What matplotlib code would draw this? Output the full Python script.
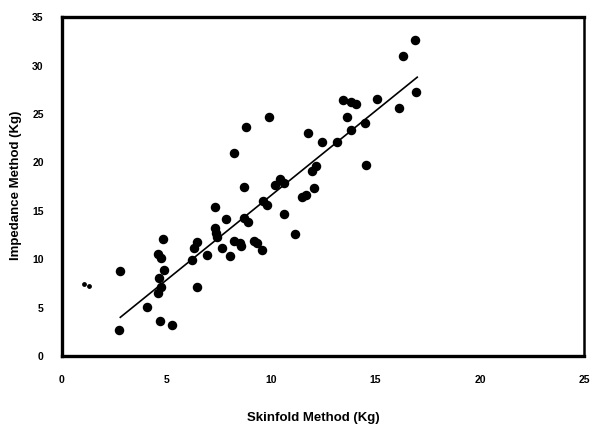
import numpy as np
import matplotlib
matplotlib.use("Agg")
import matplotlib.pyplot as plt

# data
skinfold = [2.77, 2.72, 4.08, 4.69, 5.26, 4.84, 4.60, 4.74, 4.88, 4.65,
            4.74, 4.60, 6.24, 6.34, 6.48, 6.48, 6.95, 7.32, 7.32, 7.37,
            7.42, 7.65, 7.84, 8.03, 8.26, 8.50, 8.59, 8.73, 8.92, 9.20,
            9.34, 9.58, 9.62, 9.81, 8.73, 10.19, 10.42, 10.61, 10.61, 11.17,
            11.50, 11.69, 12.07, 11.97, 12.16, 11.78, 12.44, 13.15, 13.43, 13.85,
            14.08, 15.07, 13.66, 14.51, 13.85, 14.55, 16.15, 16.34, 16.90, 16.95,
            9.91, 8.83, 8.26]
impedance = [8.76, 2.68, 5.05, 3.61, 3.20, 12.06, 10.52, 10.10, 8.87, 8.04,
             7.11, 6.49, 9.90, 11.13, 11.75, 7.11, 10.41, 15.36, 13.20, 12.68,
             12.27, 11.13, 14.12, 10.31, 11.86, 11.65, 11.34, 14.23, 13.81, 11.86,
             11.65, 10.93, 15.98, 15.57, 17.42, 17.63, 18.25, 17.84, 14.64, 12.58,
             16.39, 16.60, 17.32, 19.07, 19.59, 22.99, 22.16, 22.06, 26.49, 26.29,
             26.08, 26.60, 24.74, 24.02, 23.40, 19.69, 25.57, 31.03, 32.68, 27.32,
             24.74, 23.71, 20.93]

# small smudge near the left edge
smudge_x = [1.08, 1.31]
smudge_y = [7.45, 7.25]

# regression line end points
fit_x = [2.8, 17.0]
fit_y = [4.0, 28.8]

xticks = [0, 5, 10, 15, 20, 25]
yticks = [0, 5, 10, 15, 20, 25, 30, 35]

plt.rcParams['font.family'] = ['Liberation Sans', 'DejaVu Sans']

fig = plt.figure(figsize=(5.94, 4.30), dpi=100)
ax = fig.add_axes([0.104, 0.172, 0.880, 0.788])

ax.scatter(skinfold, impedance, s=34, color='black', zorder=3)
ax.scatter(smudge_x, smudge_y, s=6, color='black', zorder=3)
ax.plot(fit_x, fit_y, color='black', linewidth=1.2)

ax.set_xlim(0, 25)
ax.set_ylim(0, 35)
ax.set_xticks(xticks)
ax.set_yticks(yticks)
ax.tick_params(length=0, labelsize=7.5, pad=14)
ax.tick_params(axis='y', pad=13)
for lab in ax.get_xticklabels() + ax.get_yticklabels():
    lab.set_fontweight('bold')

for side in ['left', 'bottom', 'top']:
    ax.spines[side].set_linewidth(2.4)
ax.spines['right'].set_linewidth(1.8)

fig.text(0.528, 0.027, "Skinfold Method (Kg)", ha='center', va='center',
         fontsize=9.5, fontweight='bold')
fig.text(0.027, 0.57, "Impedance Method (Kg)", ha='center', va='center',
         rotation=90, fontsize=9.5, fontweight='bold')

plt.savefig("out.png", dpi=100)
